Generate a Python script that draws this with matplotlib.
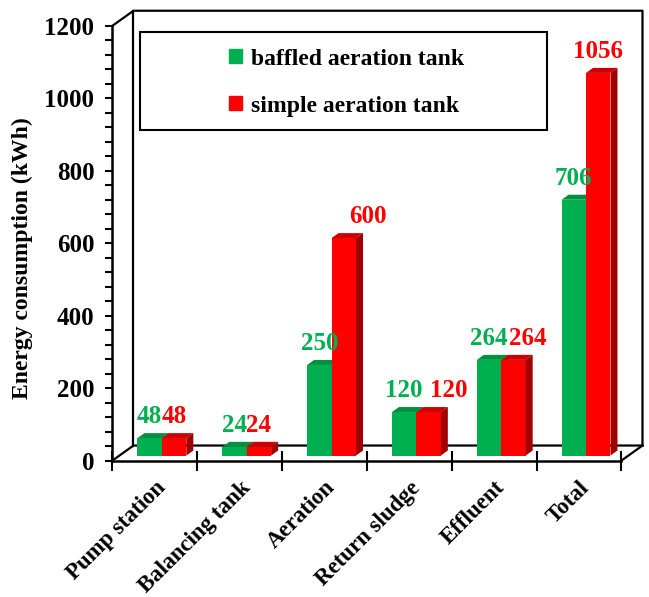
import numpy as np
import matplotlib.pyplot as plt
from matplotlib.patches import Polygon, Patch, Rectangle
from matplotlib.lines import Line2D
from matplotlib.transforms import ScaledTranslation

plt.rcParams['font.family'] = ['Liberation Serif', 'DejaVu Serif']
plt.rcParams['font.weight'] = 'bold'

categories = ['Pump station', 'Balancing tank', 'Aeration',
              'Return sludge', 'Effluent', 'Total']
baffled = [48, 24, 250, 120, 264, 706]
simple = [48, 24, 600, 120, 264, 1056]

GREEN, GREEN_TOP = '#00B050', '#00913F'
RED, RED_TOP, RED_SIDE = '#FF0000', '#CC0000', '#A00000'

# small sideways nudges (pixels) for the red value labels
red_nudge = [0, 0, 24, 20, 14, 0]

fig = plt.figure(figsize=(6.49, 5.97), dpi=100)
ax = fig.add_axes([0.1733, 0.2286, 0.7843, 0.7283])
ax.set_xlim(0, 6)
ax.set_ylim(0, 1200)

# data units per pixel, to fake the 3D depth
p0 = ax.transData.transform((0, 0))
p1 = ax.transData.transform((1, 1))
sx, sy = p1[0] - p0[0], p1[1] - p0[1]


def px(dx, dy):
    return dx / sx, dy / sy


wx, wy = px(21, 15)   # wall depth
bx, by = px(7, 5)     # bar depth
w = 0.288             # bar width

# back wall and floor outline
lk = dict(color='black', lw=1.6, clip_on=False, zorder=1)
ax.add_line(Line2D([0, wx, 6 + wx, 6 + wx], [1200, 1200 + wy, 1200 + wy, wy], **lk))
ax.add_line(Line2D([wx, wx], [1200 + wy, wy], **lk))
ax.add_line(Line2D([0, wx, 6 + wx], [0, wy, wy], **lk))
ax.add_line(Line2D([6, 6 + wx], [0, wy], **lk))


def bar3d(x0, v, front, top, side):
    ax.bar(x0 + bx, v, bottom=by, width=w, align='edge', color=front,
           zorder=3, clip_on=False)
    x1 = x0 + w
    ax.add_patch(Polygon([(x0 + bx, v + by), (x1 + bx, v + by),
                          (x1 + 2 * bx, v + 2 * by), (x0 + 2 * bx, v + 2 * by)],
                         closed=True, fc=top, ec='none', zorder=3, clip_on=False))
    ax.add_patch(Polygon([(x1 + bx, by), (x1 + 2 * bx, 2 * by),
                          (x1 + 2 * bx, v + 2 * by), (x1 + bx, v + by)],
                         closed=True, fc=side, ec='none', zorder=3, clip_on=False))


for i in range(len(categories)):
    xc = i + 0.5
    bar3d(xc - w, baffled[i], GREEN, GREEN_TOP, GREEN_TOP)
    bar3d(xc, simple[i], RED, RED_TOP, RED_SIDE)
    ax.annotate(str(baffled[i]), xy=(xc - w / 2 + bx, baffled[i]),
                xytext=(0, 20), textcoords='offset pixels', ha='center',
                va='baseline', color=GREEN, fontsize=18, fontweight='bold',
                zorder=5, annotation_clip=False)
    ax.annotate(str(simple[i]), xy=(xc + w / 2 + bx, simple[i]),
                xytext=(red_nudge[i], 20), textcoords='offset pixels', ha='center',
                va='baseline', color=RED, fontsize=18, fontweight='bold',
                zorder=5, annotation_clip=False)

# axes
for s in ['top', 'right']:
    ax.spines[s].set_visible(False)
for s in ['left', 'bottom']:
    ax.spines[s].set_linewidth(1.8)
    ax.spines[s].set_zorder(4)
ax.set_yticks(np.arange(0, 1201, 200))
ax.set_yticks(np.arange(0, 1201, 40), minor=True)
ax.tick_params(axis='y', which='both', direction='out', length=5, width=1.5,
               labelsize=18, pad=8)
ax.set_xticks(np.arange(0, 7))
ax.set_xticklabels([])
ax.set_xticks(np.arange(len(categories)) + 0.5, minor=True)
ax.set_xticklabels(categories, minor=True, rotation=45, ha='right',
                   rotation_mode='anchor', fontsize=16.5, fontweight='bold')
shift = ScaledTranslation(-4 / 100, 0, fig.dpi_scale_trans)
for lab in ax.get_xticklabels(minor=True):
    lab.set_transform(lab.get_transform() + shift)
ax.tick_params(axis='x', which='major', direction='inout', length=14, width=1.5)
ax.tick_params(axis='x', which='minor', length=0, pad=12)
ax.set_ylabel('Energy consumption (kWh)', fontsize=17, fontweight='bold')
ax.yaxis.set_label_coords(-0.156, 0.466)
ax.set_facecolor('none')

# legend in a plain box
ax.add_patch(Rectangle((0.054, 0.760), 0.80, 0.2255, transform=ax.transAxes,
                       fill=False, ec='black', lw=1.5, zorder=4, clip_on=False))
handles = [Patch(color=GREEN, label='baffled aeration tank'),
           Patch(color=RED, label='simple aeration tank')]
ax.legend(handles=handles, loc='center', bbox_to_anchor=(0.46, 0.869),
          frameon=False, handlelength=0.55, handleheight=0.55,
          handletextpad=0.35, labelspacing=1.1,
          prop={'weight': 'bold', 'size': 17})

fig.savefig('out.png', dpi=100)
